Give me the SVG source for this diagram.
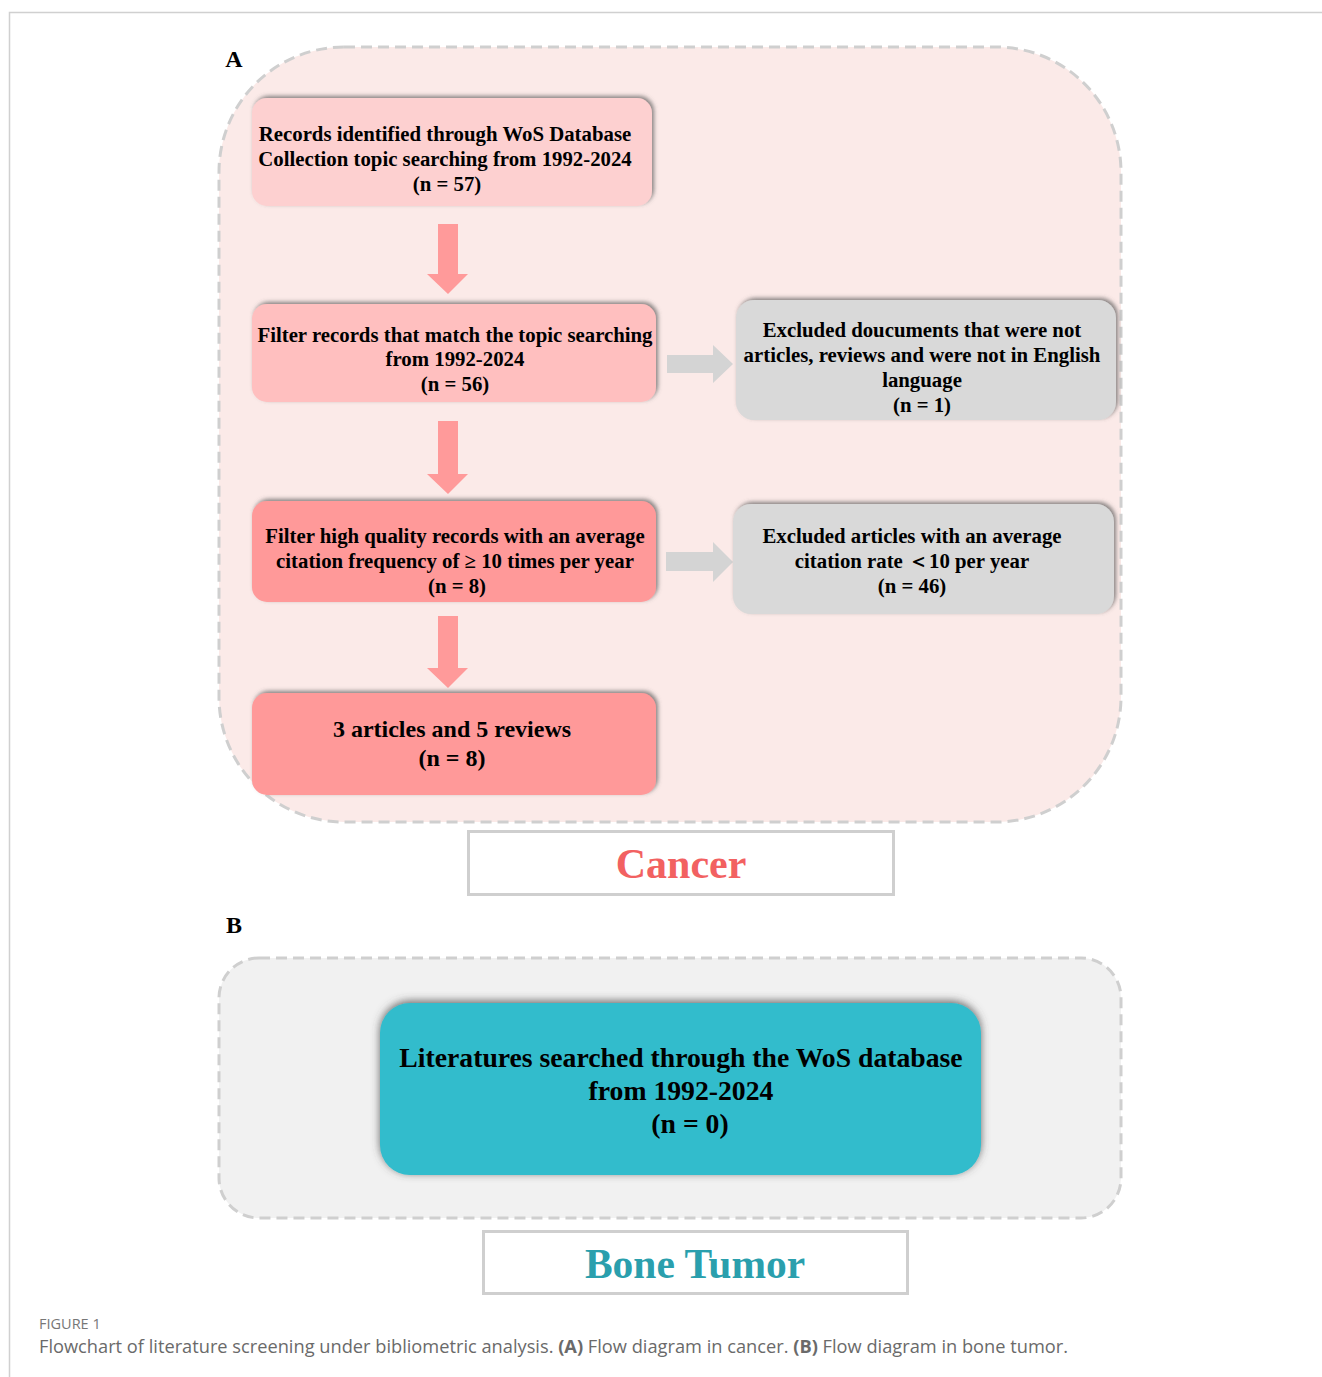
<svg xmlns="http://www.w3.org/2000/svg" width="1322" height="1377" viewBox="0 0 1322 1377">
<defs>
<filter id="sh" x="-10%" y="-20%" width="120%" height="140%">
<feDropShadow dx="2" dy="-2" stdDeviation="2" flood-color="#555" flood-opacity="0.7"/>
</filter>
<filter id="sh2" x="-10%" y="-20%" width="120%" height="140%">
<feDropShadow dx="0" dy="-2" stdDeviation="4" flood-color="#444" flood-opacity="0.8"/>
</filter>
</defs>
<style>
.t{font-family:"Liberation Serif","Times New Roman",serif;font-weight:bold;fill:#000;text-anchor:middle}
.s{font-size:20.8px}
.cont{stroke:#cfcfcf;stroke-width:3;stroke-dasharray:11 6}
.pa{fill:#ff9a9a}
.ga{fill:#d4d4d4}
.lab{fill:#fff;stroke:#cfcfcf;stroke-width:3}
.cap{font-family:"Open Sans","Noto Sans",sans-serif;fill:#6a6a6a}
</style>
<rect width="1322" height="1377" fill="#fff"/>
<path d="M9.5 1377V12.5H1322" fill="none" stroke="#d0d0d0" stroke-width="1.5"/>

<g id="panelA">
<rect class="cont" x="219" y="47" width="902" height="775" rx="125" fill="#fbeae8"/>
<text class="t" x="234" y="67" font-size="24">A</text>
</g>

<g id="connectors">
<path class="pa" d="M438 224H458V274H468L448 294L427 274H438Z"/>
<path class="pa" d="M438 421H458V474H468L448 494L427 474H438Z"/>
<path class="pa" d="M438 616H458V668H468L448 688L427 668H438Z"/>
<path class="ga" d="M667 355H713V345L733 364L713 383V373H667Z"/>
<path class="ga" d="M666 552H713V542L733 562L713 582V571H666Z"/>
</g>

<g id="n1">
<rect x="252" y="98" width="400" height="108" rx="15" fill="#fdd0d0" filter="url(#sh)"/>
<text class="t s" x="445" y="141">Records identified through WoS Database</text>
<text class="t s" x="445" y="166">Collection topic searching from 1992-2024</text>
<text class="t s" x="447" y="191">(n = 57)</text>
</g>
<g id="n2">
<rect x="252" y="304" width="404" height="98" rx="15" fill="#ffbfbf" filter="url(#sh)"/>
<text class="t s" x="455" y="342">Filter records that match the topic searching</text>
<text class="t s" x="455" y="366">from 1992-2024</text>
<text class="t s" x="455" y="391">(n = 56)</text>
</g>
<g id="n3">
<rect x="736" y="300" width="380" height="120" rx="18" fill="#d9d9d9" filter="url(#sh)"/>
<text class="t s" x="922" y="337">Excluded doucuments that were not</text>
<text class="t s" x="922" y="362">articles, reviews and were not in English</text>
<text class="t s" x="922" y="387">language</text>
<text class="t s" x="922" y="412">(n = 1)</text>
</g>
<g id="n4">
<rect x="252" y="501" width="404" height="101" rx="15" fill="#ff9999" filter="url(#sh)"/>
<text class="t s" x="455" y="543">Filter high quality records with an average</text>
<text class="t s" x="455" y="568">citation frequency of ≥ 10 times per year</text>
<text class="t s" x="457" y="593">(n = 8)</text>
</g>
<g id="n5">
<rect x="733" y="504" width="381" height="110" rx="18" fill="#d9d9d9" filter="url(#sh)"/>
<text class="t s" x="912" y="543">Excluded articles with an average</text>
<text class="t s" x="912" y="568">citation rate ＜10 per year</text>
<text class="t s" x="912" y="593">(n = 46)</text>
</g>
<g id="n6">
<rect x="252" y="693" width="404" height="102" rx="15" fill="#ff9999" filter="url(#sh)"/>
<text class="t" x="452" y="737" font-size="24">3 articles and 5 reviews</text>
<text class="t" x="452" y="766" font-size="24">(n = 8)</text>
</g>
<g id="labelCancer">
<rect class="lab" x="468.5" y="831.5" width="425" height="63"/>
<text class="t" x="681" y="878" font-size="42" style="fill:#f26161">Cancer</text>
</g>

<g id="panelB">
<rect class="cont" x="219" y="958" width="902" height="260" rx="40" fill="#f1f1f1"/>
<text class="t" x="234" y="933" font-size="24">B</text>
</g>
<g id="n7">
<rect x="380" y="1003" width="601" height="172" rx="30" fill="#31bccc" filter="url(#sh2)"/>
<text class="t" x="681" y="1067" font-size="27.7">Literatures searched through the WoS database</text>
<text class="t" x="681" y="1100" font-size="27.7">from 1992-2024</text>
<text class="t" x="690" y="1133" font-size="27.7">(n = 0)</text>
</g>
<g id="labelBone">
<rect class="lab" x="483.5" y="1231.5" width="424" height="62"/>
<text class="t" x="695" y="1278" font-size="41.5" style="fill:#2a9fad">Bone Tumor</text>
</g>

<text class="cap" x="39" y="1329" font-size="14.5" style="fill:#777">FIGURE 1</text>
<text class="cap" x="39" y="1353" font-size="17.5" textLength="1029" lengthAdjust="spacingAndGlyphs">Flowchart of literature screening under bibliometric analysis. <tspan font-weight="bold">(A)</tspan> Flow diagram in cancer. <tspan font-weight="bold">(B)</tspan> Flow diagram in bone tumor.</text>
</svg>
